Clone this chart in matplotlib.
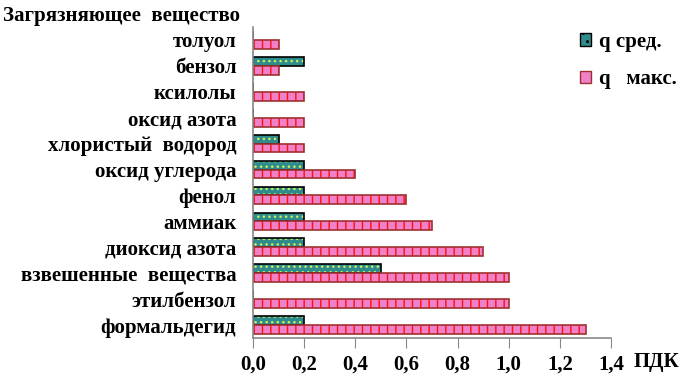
import numpy as np
import matplotlib.pyplot as plt

plt.rcParams['font.family'] = ['Liberation Serif', 'DejaVu Serif']
plt.rcParams['font.weight'] = 'bold'
plt.rcParams['hatch.linewidth'] = 1.0

# bottom to top
substances = ['формальдегид', 'этилбензол', 'взвешенные  вещества', 'диоксид азота',
              'аммиак', 'фенол', 'оксид углерода', 'хлористый  водород',
              'оксид азота', 'ксилолы', 'бензол', 'толуол']
q_avg = [0.2, 0.0, 0.5, 0.2, 0.2, 0.2, 0.2, 0.1, 0.0, 0.0, 0.2, 0.0]
q_max = [1.3, 1.0, 1.0, 0.9, 0.7, 0.6, 0.4, 0.2, 0.2, 0.2, 0.1, 0.1]
xticks = [0.0, 0.2, 0.4, 0.6, 0.8, 1.0, 1.2, 1.4]

fig = plt.figure(figsize=(6.86, 3.88), dpi=100)
ax = fig.add_axes([0.3688, 0.1289, 0.522, 0.8015])

y = np.arange(len(substances))
h = 0.34

# fill + hatch, then edge on top
ax.barh(y + h / 2, q_avg, height=h, color='#2f8c8c', edgecolor='#c8f060',
        hatch='...', linewidth=0)
ax.barh(y + h / 2, q_avg, height=h, fill=False, edgecolor='black', linewidth=1.2)
ax.barh(y - h / 2, q_max, height=h, color='#f080c8', edgecolor='#ff1010',
        hatch='||', linewidth=0)
ax.barh(y - h / 2, q_max, height=h, fill=False, edgecolor='#a03030', linewidth=1.2)

# legend proxies
p1 = plt.Rectangle((0, 0), 1, 1, facecolor='#2f8c8c', edgecolor='black', hatch='..')
p2 = plt.Rectangle((0, 0), 1, 1, facecolor='#f080c8', edgecolor='#a03030', hatch='|')
ax.legend([p1, p2], ['q сред.', 'q   макс.'], loc='upper left',
          bbox_to_anchor=(0.86, 1.045), frameon=False, fontsize=15,
          handlelength=0.55, handleheight=0.55, handletextpad=0.4,
          labelspacing=0.85)

ax.set_ylim(-0.5, len(substances) - 0.5)
ax.set_xlim(0, 1.4)
ax.set_yticks(y)
ax.set_yticklabels(substances, fontsize=15)
ax.tick_params(axis='y', length=0, pad=12)
ax.set_xticks(xticks)
ax.set_xticklabels([f'{v:.1f}'.replace('.', ',') for v in xticks], fontsize=15)
ax.tick_params(axis='x', length=7, color='#888888', pad=5)

for s in ['top', 'right']:
    ax.spines[s].set_visible(False)
for s in ['left', 'bottom']:
    ax.spines[s].set_color('#888888')
    ax.spines[s].set_linewidth(1.2)

fig.text(0.35, 0.958, 'Загрязняющее  вещество', ha='right', va='center', fontsize=15)
fig.text(0.924, 0.068, 'ПДК', ha='left', va='center', fontsize=15)

fig.savefig('out.png', dpi=100)
